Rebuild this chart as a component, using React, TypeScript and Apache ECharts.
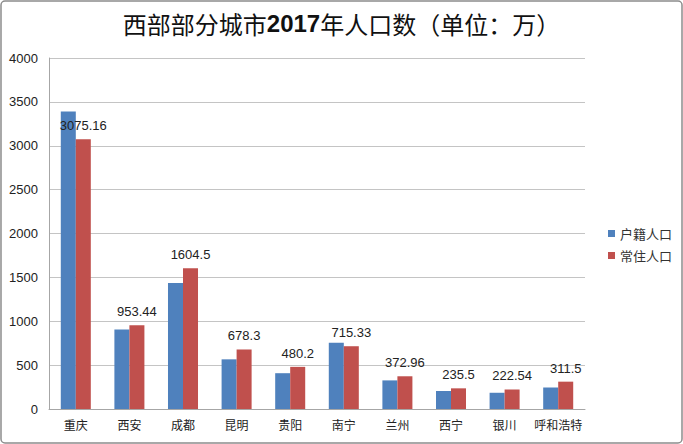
import React, { useEffect, useRef } from "react";
import * as echarts from "echarts";

const categories = ["重庆", "西安", "成都", "昆明", "贵阳", "南宁", "兰州", "西宁", "银川", "呼和浩特"];
const huji = [3390, 905, 1436, 566, 408, 755, 326, 205, 185, 245];
const changzhu = [3075.16, 953.44, 1604.5, 678.3, 480.2, 715.33, 372.96, 235.5, 222.54, 311.5];
const seriesNames = ["户籍人口", "常住人口"];
const yTicks = { min: 0, max: 4000, interval: 500 };

const FONT = "'Noto Sans CJK SC', 'Noto Sans', sans-serif";

export default function App() {
  const ref = useRef<HTMLDivElement>(null);
  useEffect(() => {
    document.body.style.margin = "0";
    const chart = echarts.init(ref.current!, null, { renderer: "svg" });
    chart.setOption({
      animation: false,
      backgroundColor: "#ffffff",
      title: {
        text: "{a|西部部分城市}{b|2017}{a|年人口数（单位：万）}",
        left: "center",
        top: 6,
        textStyle: {
          rich: {
            a: { fontFamily: FONT, fontSize: 24, color: "#111", fontWeight: "normal" },
            b: { fontFamily: "'Liberation Sans', Arial, sans-serif", fontSize: 24, color: "#111", fontWeight: "bold" },
          },
        },
      },
      graphic: [
        {
          type: "rect",
          shape: { x: 1, y: 1, width: 681, height: 442, r: 4 },
          style: { fill: "none", stroke: "#8c8c8c", lineWidth: 1.5 },
          silent: true,
        },
      ],
      legend: {
        orient: "vertical",
        left: 603,
        top: 222,
        itemWidth: 7,
        itemHeight: 7,
        itemGap: 9,
        icon: "rect",
        textStyle: { fontFamily: FONT, fontSize: 13, color: "#333" },
        data: seriesNames,
      },
      grid: { left: 49, right: 98, top: 58, bottom: 35, containLabel: false },
      xAxis: {
        type: "category",
        data: categories,
        axisLine: { lineStyle: { color: "#a6a6a6", width: 1 } },
        axisTick: { show: false },
        axisLabel: { fontFamily: FONT, fontSize: 12, color: "#222", margin: 9, interval: 0 },
      },
      yAxis: {
        type: "value",
        min: yTicks.min,
        max: yTicks.max,
        interval: yTicks.interval,
        axisLine: { show: true, lineStyle: { color: "#a6a6a6", width: 1 } },
        axisTick: { show: false },
        splitLine: { lineStyle: { color: "#c4c4c4", width: 1 } },
        axisLabel: {
          fontFamily: "'Liberation Sans', Arial, sans-serif",
          fontSize: 13,
          color: "#222",
          margin: 11,
          formatter: (v: number) => String(v),
        },
      },
      series: [
        {
          name: seriesNames[0],
          type: "bar",
          data: huji,
          barGap: "0%",
          barCategoryGap: "44%",
          itemStyle: { color: "#4f81bd" },
        },
        {
          name: seriesNames[1],
          type: "bar",
          data: changzhu,
          barGap: "0%",
          barCategoryGap: "44%",
          itemStyle: { color: "#c0504d" },
          label: {
            show: true,
            position: "top",
            distance: 7,
            fontFamily: "'Liberation Sans', Arial, sans-serif",
            fontSize: 13,
            color: "#222",
          },
        },
      ],
    });
    return () => chart.dispose();
  }, []);
  return <div ref={ref} style={{ width: 683, height: 444, position: "fixed", left: 0, top: 0 }} />;
}
